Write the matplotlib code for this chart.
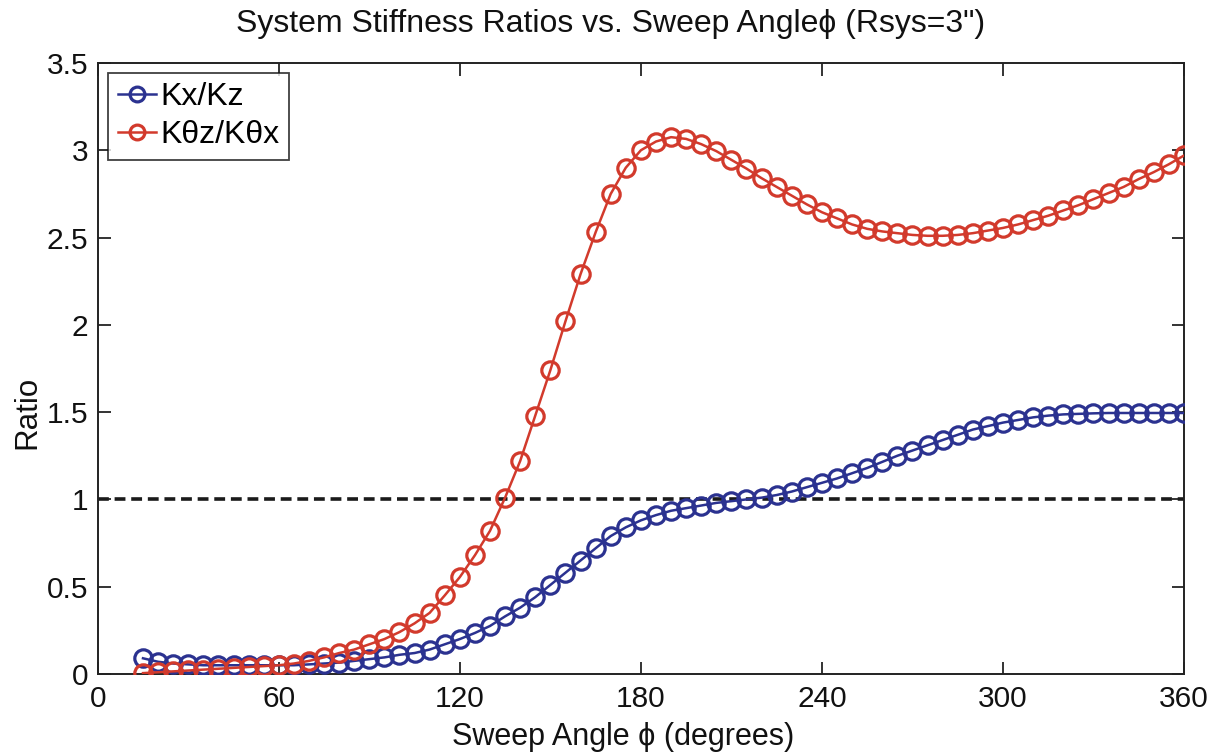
import matplotlib
matplotlib.use("Agg")
import matplotlib.pyplot as plt
import numpy as np

plt.rcParams['font.family'] = ['Liberation Sans', 'DejaVu Sans']

# Sweep angle (degrees)
angles = list(range(15, 361, 5))

# Kx/Kz
kx_kz = [0.09, 0.07, 0.06, 0.055, 0.05, 0.05, 0.05, 0.05, 0.05, 0.05,
         0.05, 0.055, 0.06, 0.065, 0.075, 0.085, 0.095, 0.11, 0.12, 0.14,
         0.17, 0.20, 0.235, 0.275, 0.33, 0.38, 0.44, 0.51, 0.58, 0.65,
         0.72, 0.79, 0.84, 0.88, 0.91, 0.935, 0.95, 0.965, 0.98, 0.99,
         1.00, 1.01, 1.025, 1.045, 1.07, 1.095, 1.12, 1.15, 1.18, 1.215,
         1.25, 1.28, 1.31, 1.34, 1.37, 1.40, 1.42, 1.44, 1.455, 1.47,
         1.48, 1.487, 1.49, 1.493, 1.495, 1.495, 1.495, 1.495, 1.495, 1.495]

# Ktheta_z/Ktheta_x
ktz_ktx = [0.005, 0.01, 0.015, 0.02, 0.025, 0.03, 0.035, 0.04, 0.045, 0.05,
           0.06, 0.075, 0.095, 0.12, 0.14, 0.17, 0.20, 0.24, 0.29, 0.35,
           0.45, 0.555, 0.68, 0.82, 1.01, 1.22, 1.48, 1.74, 2.02, 2.29,
           2.53, 2.75, 2.90, 3.00, 3.05, 3.075, 3.065, 3.035, 2.995, 2.945,
           2.895, 2.84, 2.79, 2.74, 2.69, 2.645, 2.61, 2.575, 2.55, 2.535,
           2.525, 2.515, 2.51, 2.51, 2.515, 2.525, 2.54, 2.555, 2.575, 2.60,
           2.625, 2.655, 2.685, 2.72, 2.755, 2.79, 2.835, 2.875, 2.92, 2.97]

ref_x = [0, 360]
ref_y = [1, 1]

x_ticks = [0, 60, 120, 180, 240, 300, 360]
y_ticks = [0, 0.5, 1, 1.5, 2, 2.5, 3, 3.5]
y_ticklabels = ['0', '0.5', '1', '1.5', '2', '2.5', '3', '3.5']

blue = '#2b3290'
red = '#d23a2c'

fig = plt.figure(figsize=(12.14, 7.55), dpi=100)
ax = fig.add_axes([0.0805, 0.1073, 0.8948, 0.8093])

ax.plot(angles, kx_kz, '-o', color=blue, mfc='none', mec=blue, ms=12.5, mew=2.3, lw=1.8,
        label='Kx/Kz', zorder=3)
ax.plot(angles, ktz_ktx, '-o', color=red, mfc='none', mec=red, ms=12.5, mew=2.3, lw=1.8,
        label='K\u03b8z/K\u03b8x', zorder=3)
ax.plot(ref_x, ref_y, '--', color='#1a1a1a', lw=2.6, dashes=(3.0, 1.6), zorder=2)

ax.set_xlim(0, 360)
ax.set_ylim(0, 3.5)
ax.set_xticks(x_ticks)
ax.set_xticklabels([str(v) for v in x_ticks])
ax.set_yticks(y_ticks)
ax.set_yticklabels(y_ticklabels)
ax.tick_params(direction='in', top=True, right=True, length=9, width=1.2,
               labelsize=21.5, colors='#111111')
ax.tick_params(axis='x', pad=8)
ax.tick_params(axis='y', pad=7)
for s in ax.spines.values():
    s.set_linewidth(1.4)
    s.set_color('#222222')

W, H = 1214.0, 755.0
fig.text(611 / W, 1 - 24 / H, 'System Stiffness Ratios vs. Sweep Angle\u03d5 (Rsys=3")',
         fontsize=23, ha='center', va='center', color='#111111')
fig.text(623 / W, 1 - 737 / H, 'Sweep Angle \u03d5 (degrees)',
         fontsize=22, ha='center', va='center', color='#111111')
fig.text(27 / W, 1 - 412 / H, 'Ratio', fontsize=22.5, ha='center', va='center',
         rotation=90, color='#111111')

leg = ax.legend(loc='upper left', bbox_to_anchor=(0.0095, 0.984), borderaxespad=0,
                fontsize=23, handlelength=1.2, handletextpad=0.15, labelspacing=0.25,
                borderpad=0.3, fancybox=False, frameon=True, markerscale=0.85)
leg.get_frame().set_edgecolor('#111111')
leg.get_frame().set_linewidth(1.3)

fig.savefig('out.png', dpi=100)
